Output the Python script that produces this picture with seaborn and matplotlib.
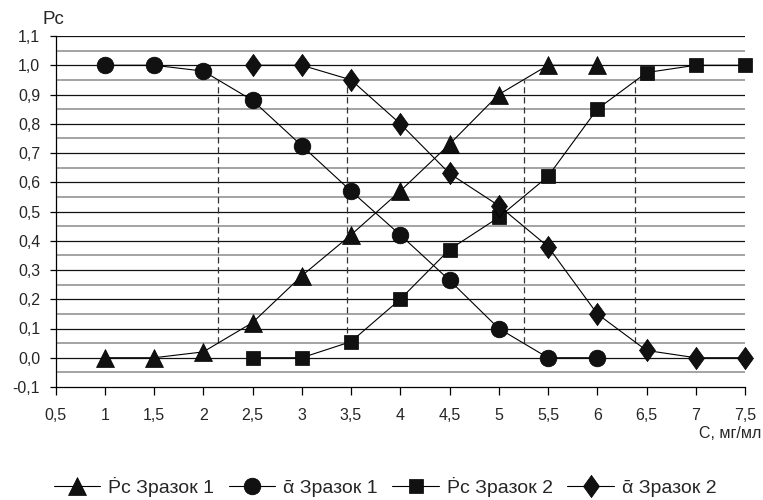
import numpy as np
import pandas as pd
import matplotlib
matplotlib.use("Agg")
import matplotlib.pyplot as plt
import seaborn as sns

# ---- data ----
x_tri = [1, 1.5, 2, 2.5, 3, 3.5, 4, 4.5, 5, 5.5, 6]
y_tri = [0.0, 0.0, 0.02, 0.12, 0.28, 0.42, 0.57, 0.73, 0.90, 1.0, 1.0]
x_circ = [1, 1.5, 2, 2.5, 3, 3.5, 4, 4.5, 5, 5.5, 6]
y_circ = [1.0, 1.0, 0.98, 0.88, 0.725, 0.57, 0.42, 0.265, 0.10, 0.0, 0.0]
x_sq = [2.5, 3, 3.5, 4, 4.5, 5, 5.5, 6, 6.5, 7, 7.5]
y_sq = [0.0, 0.0, 0.055, 0.20, 0.37, 0.48, 0.62, 0.85, 0.975, 1.0, 1.0]
x_dia = [2.5, 3, 3.5, 4, 4.5, 5, 5.5, 6, 6.5, 7, 7.5]
y_dia = [1.0, 1.0, 0.95, 0.80, 0.63, 0.52, 0.38, 0.15, 0.025, 0.0, 0.0]
ref_x = [2.15, 3.46, 5.26, 6.38]
ref_lo, ref_hi = 0.05, 0.95
labels = ["Ṗc Зразок 1", "ᾱ Зразок 1", "Ṗc Зразок 2", "ᾱ Зразок 2"]
xticks = [0.5, 1, 1.5, 2, 2.5, 3, 3.5, 4, 4.5, 5, 5.5, 6, 6.5, 7, 7.5]
xtick_labels = ["0,5", "1", "1,5", "2", "2,5", "3", "3,5", "4", "4,5", "5", "5,5", "6", "6,5", "7", "7,5"]
yticks = [round(-0.1 + 0.1 * i, 1) for i in range(13)]
ytick_labels = [f"{v:.1f}".replace(".", ",") for v in yticks]

sns.set_style("white")
plt.rcParams['font.family'] = ['Liberation Sans', 'DejaVu Sans']

fig = plt.figure(figsize=(7.63, 5.0), dpi=100)
ax = fig.add_axes([55.5 / 763, 1 - 387 / 500, (745 - 55.5) / 763, (387 - 36) / 500])

# grid lines
for i in range(1, 25):
    v = -0.1 + 0.05 * i
    major = i % 2 == 0
    ax.axhline(v, color="#111111" if major else "#8a8a8a", lw=0.9 if major else 1.1, zorder=0)

# dashed reference lines
for xr in ref_x:
    ax.plot([xr, xr], [ref_lo, ref_hi], ls=(0, (5, 3)), color="#333333", lw=0.9, zorder=1)

diamond = [(-0.72, 0), (0, 1), (0.72, 0), (0, -1), (-0.72, 0)]
series = [
    (x_tri, y_tri, "^", 12.5),
    (x_circ, y_circ, "o", 12),
    (x_sq, y_sq, "s", 10.5),
    (x_dia, y_dia, diamond, 16),
]
for (xs, ys, m, ms), lab in zip(series, labels):
    df = pd.DataFrame({"x": xs, "y": ys})
    sns.lineplot(data=df, x="x", y="y", ax=ax, color="black", lw=0.8, marker=m,
                 markersize=ms, markeredgecolor="black", markerfacecolor="#111111",
                 markeredgewidth=0.5, clip_on=False, zorder=3, label=lab)

ax.set_xlim(0.5, 7.5)
ax.set_ylim(-0.1, 1.1)
ax.set_xticks(xticks)
ax.set_xticklabels(xtick_labels, fontsize=11.5)
ax.set_yticks(yticks)
ax.set_yticklabels(ytick_labels, fontsize=11.5)
ax.tick_params(axis="x", direction="out", length=6, width=0.9, color="black", pad=9, bottom=True)
ax.tick_params(axis="y", direction="out", length=4, width=0.9, color="black", pad=7, left=True)
ax.set_xlabel("")
ax.set_ylabel("")
for s in ["top", "right"]:
    ax.spines[s].set_visible(False)
for s in ["left", "bottom"]:
    ax.spines[s].set_color("black")
    ax.spines[s].set_linewidth(0.9)

fig.text(43 / 763, 1 - 20 / 500, "Pc", fontsize=13.5, va="center", ha="left")
fig.text(761 / 763, 1 - 433 / 500, "С, мг/мл", fontsize=11.5, va="center", ha="right")

leg = ax.legend(loc="center", bbox_to_anchor=(385 / 763, 1 - 487 / 500),
                bbox_transform=fig.transFigure, ncol=4, frameon=False, fontsize=14,
                handlelength=2.4, columnspacing=0.75, handletextpad=0.4)

fig.savefig("out.png", dpi=100)
